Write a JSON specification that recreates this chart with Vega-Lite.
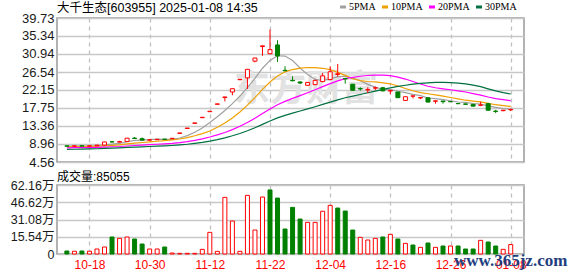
{
  "$schema": "https://vega.github.io/schema/vega-lite/v6.json",
  "background": "white",
  "padding": {"left": 9, "top": 0, "right": 2, "bottom": 0},
  "spacing": 0,
  "config": {
    "font": "Liberation Sans, Noto Sans CJK SC, sans-serif",
    "view": {"stroke": "#999999", "strokeWidth": 1.5},
    "axis": {"labelFont": "Liberation Sans, Noto Sans CJK SC", "labelColor": "#1a1a1a", "ticks": false, "domain": false, "title": null, "gridColor": "#c8c8c8", "gridWidth": 1.3, "gridOpacity": 1, "labelOverlap": false, "tickCount": 30},
    "title": {"font": "Liberation Sans, Noto Sans CJK SC", "fontWeight": "normal", "color": "#000000"}
  },
  "data": {"values": [
    {"i":0,"o":8.50,"h":8.55,"l":8.40,"c":8.42,"d":"d","v":2.7,"vd":"d","ma5":8.45,"ma10":8.31,"ma20":8.02,"ma30":7.65},
    {"i":1,"o":8.42,"h":8.55,"l":8.40,"c":8.50,"d":"u","v":2.5,"vd":"u","ma5":8.46,"ma10":8.33,"ma20":8.05,"ma30":7.68},
    {"i":2,"o":8.52,"h":8.56,"l":8.42,"c":8.45,"d":"d","v":2.7,"vd":"d","ma5":8.46,"ma10":8.35,"ma20":8.07,"ma30":7.72},
    {"i":3,"o":8.45,"h":8.58,"l":8.42,"c":8.52,"d":"u","v":2.5,"vd":"u","ma5":8.47,"ma10":8.37,"ma20":8.09,"ma30":7.76},
    {"i":4,"o":8.52,"h":8.72,"l":8.48,"c":8.68,"d":"u","v":4.5,"vd":"u","ma5":8.51,"ma10":8.41,"ma20":8.13,"ma30":7.80},
    {"i":5,"o":8.70,"h":9.50,"l":8.65,"c":9.45,"d":"u","v":6.3,"vd":"u","ma5":8.72,"ma10":8.52,"ma20":8.20,"ma30":7.87},
    {"i":6,"o":9.50,"h":9.55,"l":9.40,"c":9.45,"d":"d","v":15.3,"vd":"d","ma5":8.91,"ma10":8.64,"ma20":8.28,"ma30":7.94},
    {"i":7,"o":9.40,"h":9.72,"l":9.35,"c":9.55,"d":"u","v":14.1,"vd":"u","ma5":9.13,"ma10":8.76,"ma20":8.35,"ma30":8.02},
    {"i":8,"o":9.55,"h":10.42,"l":9.50,"c":10.38,"d":"u","v":15.3,"vd":"u","ma5":9.50,"ma10":8.97,"ma20":8.47,"ma30":8.11},
    {"i":9,"o":10.40,"h":10.65,"l":10.20,"c":10.30,"d":"d","v":13.5,"vd":"d","ma5":9.83,"ma10":9.17,"ma20":8.59,"ma30":8.19},
    {"i":10,"o":10.25,"h":10.55,"l":9.85,"c":9.90,"d":"d","v":9.0,"vd":"d","ma5":9.92,"ma10":9.32,"ma20":8.68,"ma30":8.27},
    {"i":11,"o":9.90,"h":10.05,"l":9.80,"c":9.98,"d":"u","v":4.5,"vd":"u","ma5":10.02,"ma10":9.47,"ma20":8.78,"ma30":8.34},
    {"i":12,"o":10.00,"h":10.15,"l":9.95,"c":10.10,"d":"u","v":4.5,"vd":"u","ma5":10.13,"ma10":9.63,"ma20":8.89,"ma30":8.42},
    {"i":13,"o":10.15,"h":10.18,"l":10.05,"c":10.08,"d":"d","v":6.3,"vd":"d","ma5":10.07,"ma10":9.79,"ma20":8.99,"ma30":8.50},
    {"i":14,"o":10.25,"h":10.35,"l":10.25,"c":10.35,"d":"u","v":0.9,"vd":"u","ma5":10.08,"ma10":9.95,"ma20":9.11,"ma30":8.59},
    {"i":15,"o":11.55,"h":11.65,"l":11.55,"c":11.65,"d":"u","v":0.6,"vd":"u","ma5":10.43,"ma10":10.17,"ma20":9.29,"ma30":8.72},
    {"i":16,"o":12.75,"h":12.85,"l":12.75,"c":12.85,"d":"u","v":0.6,"vd":"u","ma5":11.01,"ma10":10.51,"ma20":9.53,"ma30":8.89},
    {"i":17,"o":14.00,"h":14.10,"l":14.00,"c":14.10,"d":"u","v":0.6,"vd":"u","ma5":11.81,"ma10":10.97,"ma20":9.84,"ma30":9.11},
    {"i":18,"o":15.38,"h":15.48,"l":15.38,"c":15.48,"d":"u","v":4.2,"vd":"u","ma5":12.89,"ma10":11.48,"ma20":10.21,"ma30":9.36},
    {"i":19,"o":16.85,"h":16.95,"l":16.85,"c":16.95,"d":"u","v":19.5,"vd":"u","ma5":14.21,"ma10":12.14,"ma20":10.66,"ma30":9.67},
    {"i":20,"o":18.65,"h":18.75,"l":18.65,"c":18.75,"d":"u","v":2.4,"vd":"u","ma5":15.63,"ma10":13.03,"ma20":11.17,"ma30":10.04},
    {"i":21,"o":20.30,"h":20.45,"l":19.35,"c":20.45,"d":"u","v":51.0,"vd":"u","ma5":17.15,"ma10":14.08,"ma20":11.77,"ma30":10.47},
    {"i":22,"o":21.66,"h":22.46,"l":20.85,"c":22.46,"d":"u","v":29.7,"vd":"u","ma5":18.82,"ma10":15.31,"ma20":12.47,"ma30":10.96},
    {"i":23,"o":24.65,"h":24.75,"l":24.65,"c":24.75,"d":"u","v":2.4,"vd":"u","ma5":20.67,"ma10":16.78,"ma20":13.28,"ma30":11.53},
    {"i":24,"o":25.10,"h":27.25,"l":22.40,"c":27.20,"d":"u","v":52.8,"vd":"u","ma5":22.72,"ma10":18.46,"ma20":14.21,"ma30":12.18},
    {"i":25,"o":29.20,"h":30.00,"l":28.90,"c":29.95,"d":"u","v":21.6,"vd":"u","ma5":24.96,"ma10":20.29,"ma20":15.23,"ma30":12.92},
    {"i":26,"o":32.75,"h":32.95,"l":30.50,"c":32.93,"d":"u","v":51.3,"vd":"u","ma5":27.46,"ma10":22.30,"ma20":16.41,"ma30":13.76},
    {"i":27,"o":31.00,"h":36.90,"l":30.90,"c":32.00,"d":"u","v":57.7,"vd":"d","ma5":29.37,"ma10":24.09,"ma20":17.53,"ma30":14.57},
    {"i":28,"o":33.15,"h":34.30,"l":29.00,"c":30.45,"d":"d","v":50.4,"vd":"d","ma5":30.51,"ma10":25.59,"ma20":18.53,"ma30":15.33},
    {"i":29,"o":26.95,"h":27.95,"l":26.80,"c":26.85,"d":"d","v":22.5,"vd":"d","ma5":30.44,"ma10":26.58,"ma20":19.36,"ma30":15.96},
    {"i":30,"o":24.50,"h":25.50,"l":24.30,"c":24.40,"d":"d","v":42.0,"vd":"d","ma5":29.33,"ma10":27.14,"ma20":20.09,"ma30":16.50},
    {"i":31,"o":24.10,"h":24.30,"l":23.60,"c":23.85,"d":"d","v":31.5,"vd":"d","ma5":27.51,"ma10":27.48,"ma20":20.78,"ma30":17.01},
    {"i":32,"o":23.30,"h":24.10,"l":23.20,"c":24.00,"d":"u","v":28.5,"vd":"u","ma5":25.91,"ma10":27.64,"ma20":21.48,"ma30":17.53},
    {"i":33,"o":23.45,"h":24.60,"l":23.40,"c":24.50,"d":"u","v":28.5,"vd":"u","ma5":24.72,"ma10":27.61,"ma20":22.20,"ma30":18.06},
    {"i":34,"o":24.20,"h":26.30,"l":24.00,"c":25.60,"d":"u","v":38.5,"vd":"u","ma5":24.47,"ma10":27.45,"ma20":22.96,"ma30":18.62},
    {"i":35,"o":24.70,"h":27.90,"l":24.50,"c":26.60,"d":"u","v":43.8,"vd":"u","ma5":24.91,"ma10":27.12,"ma20":23.71,"ma30":19.20},
    {"i":36,"o":25.95,"h":28.50,"l":25.40,"c":26.10,"d":"u","v":41.4,"vd":"d","ma5":25.36,"ma10":26.44,"ma20":24.37,"ma30":19.75},
    {"i":37,"o":24.95,"h":25.05,"l":23.70,"c":24.85,"d":"d","v":38.7,"vd":"d","ma5":25.53,"ma10":25.72,"ma20":24.91,"ma30":20.26},
    {"i":38,"o":23.55,"h":23.60,"l":22.00,"c":22.07,"d":"d","v":21.6,"vd":"d","ma5":25.04,"ma10":24.88,"ma20":25.24,"ma30":20.65},
    {"i":39,"o":22.50,"h":22.80,"l":22.00,"c":22.40,"d":"d","v":15.0,"vd":"u","ma5":24.40,"ma10":24.44,"ma20":25.51,"ma30":21.05},
    {"i":40,"o":22.15,"h":22.80,"l":21.40,"c":22.25,"d":"u","v":12.6,"vd":"u","ma5":23.53,"ma10":24.22,"ma20":25.68,"ma30":21.47},
    {"i":41,"o":22.60,"h":23.00,"l":22.10,"c":22.70,"d":"u","v":14.1,"vd":"u","ma5":22.85,"ma10":24.11,"ma20":25.80,"ma30":21.89},
    {"i":42,"o":22.70,"h":22.90,"l":21.80,"c":21.95,"d":"d","v":15.3,"vd":"d","ma5":22.27,"ma10":23.90,"ma20":25.77,"ma30":22.28},
    {"i":43,"o":21.90,"h":22.10,"l":21.10,"c":22.05,"d":"u","v":17.7,"vd":"u","ma5":22.27,"ma10":23.66,"ma20":25.64,"ma30":22.68},
    {"i":44,"o":21.65,"h":21.70,"l":20.20,"c":20.27,"d":"d","v":13.5,"vd":"d","ma5":21.84,"ma10":23.12,"ma20":25.29,"ma30":23.01},
    {"i":45,"o":19.60,"h":20.55,"l":19.55,"c":20.50,"d":"u","v":9.6,"vd":"u","ma5":21.49,"ma10":22.51,"ma20":24.82,"ma30":23.31},
    {"i":46,"o":20.65,"h":20.75,"l":20.10,"c":20.70,"d":"u","v":8.1,"vd":"d","ma5":21.09,"ma10":21.97,"ma20":24.21,"ma30":23.57},
    {"i":47,"o":20.20,"h":20.35,"l":19.90,"c":20.30,"d":"u","v":6.0,"vd":"u","ma5":20.76,"ma10":21.52,"ma20":23.62,"ma30":23.78},
    {"i":48,"o":20.25,"h":20.30,"l":19.10,"c":19.20,"d":"d","v":9.9,"vd":"d","ma5":20.19,"ma10":21.23,"ma20":23.06,"ma30":23.90},
    {"i":49,"o":19.40,"h":19.55,"l":18.80,"c":19.50,"d":"u","v":6.0,"vd":"u","ma5":20.04,"ma10":20.94,"ma20":22.69,"ma30":23.99},
    {"i":50,"o":19.45,"h":19.50,"l":18.80,"c":19.30,"d":"d","v":7.2,"vd":"d","ma5":19.80,"ma10":20.65,"ma20":22.44,"ma30":24.00},
    {"i":51,"o":19.32,"h":19.40,"l":19.20,"c":19.28,"d":"d","v":7.2,"vd":"u","ma5":19.52,"ma10":20.31,"ma20":22.21,"ma30":23.97},
    {"i":52,"o":18.85,"h":18.90,"l":18.70,"c":18.80,"d":"d","v":7.2,"vd":"d","ma5":19.22,"ma10":19.99,"ma20":21.95,"ma30":23.84},
    {"i":53,"o":18.75,"h":18.80,"l":18.60,"c":18.65,"d":"d","v":4.5,"vd":"d","ma5":19.11,"ma10":19.65,"ma20":21.65,"ma30":23.64},
    {"i":54,"o":18.65,"h":18.70,"l":18.15,"c":18.20,"d":"d","v":4.5,"vd":"d","ma5":18.85,"ma10":19.44,"ma20":21.28,"ma30":23.34},
    {"i":55,"o":18.40,"h":19.30,"l":18.20,"c":18.50,"d":"u","v":12.3,"vd":"u","ma5":18.69,"ma10":19.24,"ma20":20.88,"ma30":22.96},
    {"i":56,"o":18.80,"h":19.00,"l":17.15,"c":17.20,"d":"d","v":10.8,"vd":"d","ma5":18.27,"ma10":18.89,"ma20":20.43,"ma30":22.43},
    {"i":57,"o":17.00,"h":17.30,"l":16.50,"c":16.90,"d":"d","v":7.2,"vd":"d","ma5":17.89,"ma10":18.55,"ma20":20.04,"ma30":21.93},
    {"i":58,"o":17.10,"h":17.25,"l":16.95,"c":17.20,"d":"u","v":4.2,"vd":"u","ma5":17.60,"ma10":18.35,"ma20":19.79,"ma30":21.49},
    {"i":59,"o":17.30,"h":17.60,"l":17.00,"c":17.40,"d":"u","v":8.5,"vd":"u","ma5":17.44,"ma10":18.14,"ma20":19.54,"ma30":21.17}
  ]},
  "vconcat": [
    {
      "width": 467,
      "height": 144,
      "title": {"text": "大千生态[603955] 2025-01-08 14:35", "anchor": "start", "frame": "group", "fontSize": 12.5, "offset": -2},
      "layer": [
        {
          "data": {"values": [{"t": "东方财富"}]},
          "mark": {"type": "text", "font": "Noto Sans CJK SC", "fontWeight": "bold", "fontSize": 36, "color": "#e2e2e2", "align": "center", "baseline": "middle"},
          "encoding": {
            "text": {"field": "t"},
            "x": {"datum": 31.8, "type": "quantitative"},
            "y": {"datum": 22.2, "type": "quantitative"}
          }
        },
        {
          "transform": [{"fold": ["ma5", "ma10", "ma20", "ma30"], "as": ["ma", "val"]}],
          "mark": {"type": "line", "strokeWidth": 1.2},
          "encoding": {
            "x": {"field": "i", "type": "quantitative",
                  "scale": {"domain": [-0.65, 60.1], "nice": false, "zero": false},
                  "axis": {"values": [3, 11, 19, 27, 35, 43, 51, 59], "tickCount": 30, "labels": false, "minExtent": 0, "maxExtent": 0, "grid": true, "gridDash": [4, 4], "gridColor": "#c0c0c0", "gridWidth": 1.3}},
            "y": {"field": "val", "type": "quantitative",
                  "scale": {"domain": [4.56, 39.73], "nice": false, "zero": false},
                  "axis": {"values": [4.56, 8.96, 13.36, 17.75, 22.15, 26.54, 30.94, 35.34, 39.73], "tickCount": 30, "format": ".2f", "labelFontSize": 13, "labelPadding": 3, "labelOverlap": false, "grid": true, "minExtent": 46, "maxExtent": 46}},
            "color": {"field": "ma", "type": "nominal",
                      "scale": {"domain": ["ma5", "ma10", "ma20", "ma30"], "range": ["#a0a0a0", "#f0a000", "#ff00ff", "#007040"]},
                      "legend": {"orient": "none", "legendX": 281, "legendY": -16, "direction": "horizontal", "title": null,
                                 "labelFont": "Liberation Serif", "labelFontSize": 10, "labelColor": "#000000",
                                 "symbolType": "stroke", "symbolStrokeWidth": 3, "symbolSize": 36, "columnPadding": 0, "labelOffset": 1,
                                 "labelExpr": "replace(datum.label, 'ma', '') + 'PMA'"}}
          }
        },
        {
          "mark": {"type": "rule", "strokeWidth": 1},
          "encoding": {
            "x": {"field": "i", "type": "quantitative"},
            "y": {"field": "l", "type": "quantitative"},
            "y2": {"field": "h"},
            "stroke": {"field": "d", "type": "nominal", "scale": {"domain": ["u", "d"], "range": ["#ff0000", "#008000"]}, "legend": null}
          }
        },
        {
          "mark": {"type": "bar", "size": 4, "strokeWidth": 1},
          "encoding": {
            "x": {"field": "i", "type": "quantitative"},
            "y": {"field": "o", "type": "quantitative"},
            "y2": {"field": "c"},
            "fill": {"field": "d", "type": "nominal", "scale": {"domain": ["u", "d"], "range": ["#ffffff", "#008000"]}, "legend": null},
            "stroke": {"field": "d", "type": "nominal", "scale": {"domain": ["u", "d"], "range": ["#ff0000", "#008000"]}, "legend": null}
          }
        }
      ]
    },
    {
      "width": 467,
      "height": 69,
      "title": {"text": "成交量:85055", "anchor": "start", "frame": "group", "fontSize": 12, "offset": -5},
      "layer": [
        {
          "mark": {"type": "bar", "size": 4, "strokeWidth": 1},
          "encoding": {
            "x": {"field": "i", "type": "quantitative",
                  "scale": {"domain": [-0.65, 60.1], "nice": false, "zero": false},
                  "axis": {"values": [3, 11, 19, 27, 35, 43, 51, 59], "tickCount": 30, "grid": true, "gridDash": [4, 4], "gridColor": "#c0c0c0", "gridWidth": 1.3,
                           "labelColor": "#ff0000", "labelFontSize": 12, "labelPadding": 5,
                           "labelExpr": "['10-18','10-30','11-12','11-22','12-04','12-16','12-26','01-08'][round((datum.value - 3) / 8)]"}},
            "y": {"field": "v", "type": "quantitative",
                  "scale": {"domain": [0, 62.16], "nice": false},
                  "axis": {"values": [0, 15.54, 31.08, 46.62, 62.16], "tickCount": 30, "labelFontSize": 12.5, "labelPadding": 3, "labelOverlap": false, "grid": true, "minExtent": 46, "maxExtent": 46,
                           "labelExpr": "datum.value == 0 ? '0' : format(datum.value, '.2f') + '万'"}},
            "fill": {"field": "vd", "type": "nominal", "scale": {"domain": ["u", "d"], "range": ["#ffffff", "#008000"]}, "legend": null},
            "stroke": {"field": "vd", "type": "nominal", "scale": {"domain": ["u", "d"], "range": ["#ff0000", "#008000"]}, "legend": null}
          }
        },
        {
          "data": {"values": [{"t": "www.365jz.com"}]},
          "mark": {"type": "text", "font": "Liberation Serif", "fontWeight": "bold", "fontSize": 17, "color": "#1f3f80", "align": "center", "baseline": "middle"},
          "encoding": {
            "text": {"field": "t"},
            "x": {"datum": 59.0, "type": "quantitative"},
            "y": {"datum": -6.5, "type": "quantitative"}
          }
        }
      ]
    }
  ]
}
